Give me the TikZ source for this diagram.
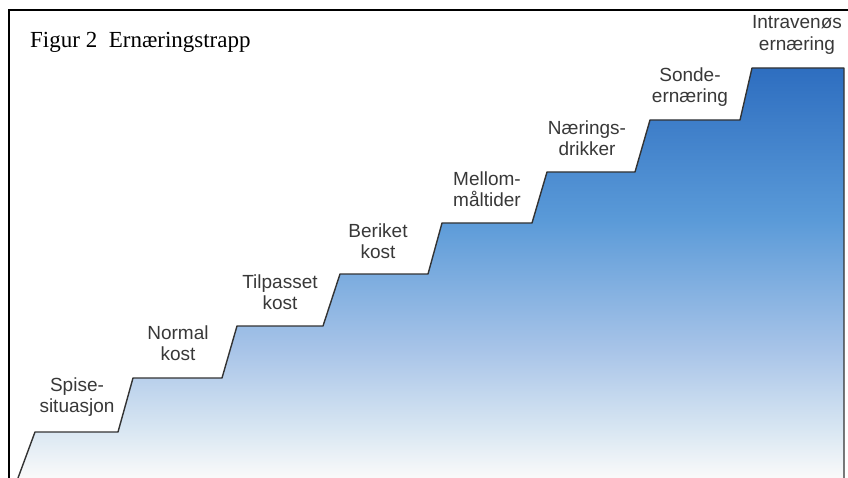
\documentclass[tikz,border=0pt]{standalone}
\usepackage{fontspec}
\setmainfont{Liberation Serif}
\newfontfamily\stepfont{Liberation Sans}
\usepackage{tikz}
\usetikzlibrary{positioning}
\pgfdeclareverticalshading{stairshade}{100bp}{
  color(0bp)=(white!96!gray); color(25bp)=(white!96!gray);
  color(31bp)=(rgb,255:red,216;green,230;blue,242);
  color(40.6bp)=(rgb,255:red,168;green,196;blue,232);
  color(56.5bp)=(rgb,255:red,90;green,154;blue,216);
  color(75bp)=(rgb,255:red,46;green,110;blue,192);
  color(100bp)=(rgb,255:red,46;green,110;blue,192)}

\begin{document}
\begin{tikzpicture}[
    x=1pt, y=-1pt,
    steplabel/.style={align=center, inner sep=0pt, text=black!78,
      font=\stepfont\fontsize{19}{21.5}\selectfont},
    frame/.style={draw=black, line width=1.3pt},
    edge/.style={draw=black!80, line width=1.4pt, line join=round},
  ]
  \useasboundingbox (0,0) rectangle (848,478);

  % Frame
  \draw[frame] (9,478) -- (9,10) -- (848,10);

  % Title
  \node[anchor=base west, inner sep=0pt, font=\fontsize{23}{27}\selectfont]
    (title) at (30,48) {Figur 2\ \ Ernæringstrapp};

  % Staircase
  \shade[shading=stairshade]
    (18,478) -- (35,432) -- (118,432) -- (133,378) -- (222,378) -- (237,326)
    -- (323,326) -- (340,274) -- (428,274) -- (442,223) -- (532,223)
    -- (547,172) -- (635,172) -- (650,120) -- (740,120) -- (752,68)
    -- (844,68) -- (844,478) -- cycle;
  \draw[edge]
    (18,478) -- (35,432) -- (118,432) -- (133,378) -- (222,378) -- (237,326)
    -- (323,326) -- (340,274) -- (428,274) -- (442,223) -- (532,223)
    -- (547,172) -- (635,172) -- (650,120) -- (740,120) -- (752,68)
    -- (844,68) -- (844,478);

  % Step labels
  \node[steplabel] (spise) at (77,397) {Spise-\\situasjon};
  \node[steplabel] (normal) at (178,343) {Normal\\kost};
  \node[steplabel] (tilpasset) at (280,292) {Tilpasset\\kost};
  \node[steplabel] (beriket) at (378,241) {Beriket\\kost};
  \node[steplabel] (mellom) at (487,189) {Mellom-\\måltider};
  \node[steplabel] (naerings) at (587,138) {Nærings-\\drikker};
  \node[steplabel] (sonde) at (690,87) {Sonde-\\ernæring};
  \node[steplabel] (intravenos) at (797,35) {Intravenøs\\ernæring};
\end{tikzpicture}
\end{document}
